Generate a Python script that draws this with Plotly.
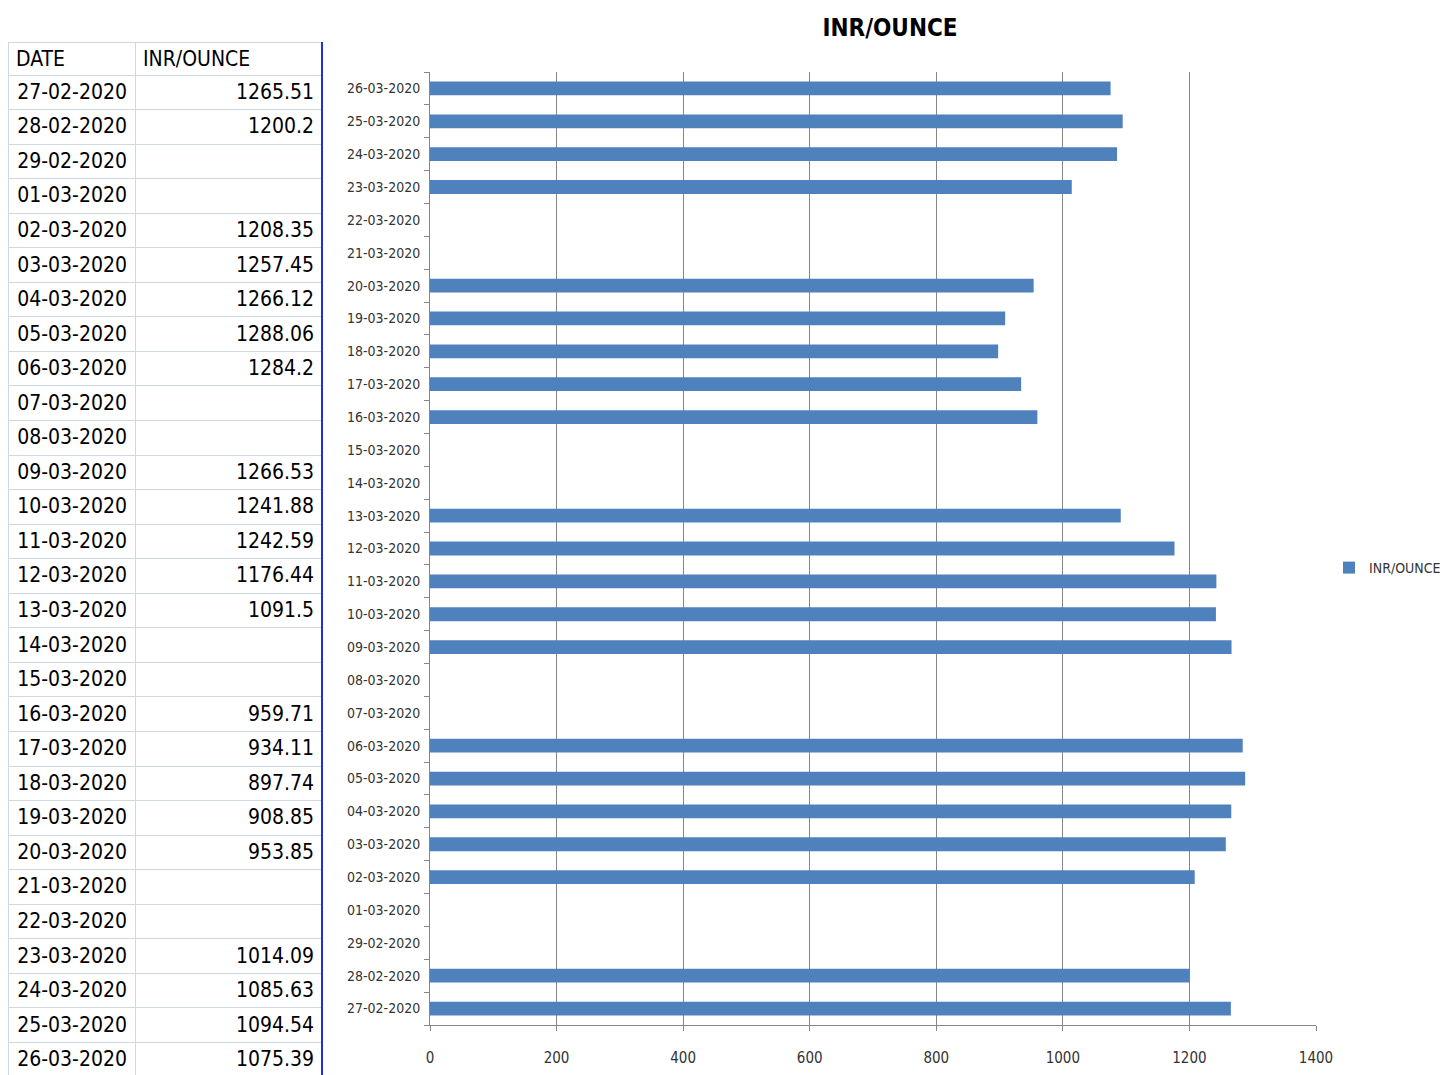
import plotly.graph_objects as go

dates = ["27-02-2020", "28-02-2020", "29-02-2020", "01-03-2020", "02-03-2020", "03-03-2020",
         "04-03-2020", "05-03-2020", "06-03-2020", "07-03-2020", "08-03-2020", "09-03-2020",
         "10-03-2020", "11-03-2020", "12-03-2020", "13-03-2020", "14-03-2020", "15-03-2020",
         "16-03-2020", "17-03-2020", "18-03-2020", "19-03-2020", "20-03-2020", "21-03-2020",
         "22-03-2020", "23-03-2020", "24-03-2020", "25-03-2020", "26-03-2020"]
inr_ounce = [1265.51, 1200.2, None, None, 1208.35, 1257.45,
             1266.12, 1288.06, 1284.2, None, None, 1266.53,
             1241.88, 1242.59, 1176.44, 1091.5, None, None,
             959.71, 934.11, 897.74, 908.85, 953.85, None,
             None, 1014.09, 1085.63, 1094.54, 1075.39]
x_ticks = [0, 200, 400, 600, 800, 1000, 1200, 1400]
series_name = "INR/OUNCE"
headers = ["DATE", "INR/OUNCE"]

W, H = 1446, 1075
NARROW = "DejaVu Sans Condensed, Liberation Sans Narrow, Roboto, sans-serif"
BLUE = "#4F81BD"

fig = go.Figure()

# Spreadsheet table on the left
val_text = ["" if v is None else str(v) for v in inr_ounce]
fig.add_trace(go.Table(
    domain=dict(x=[8 / W, 322 / W], y=[0, 1 - 42 / H]),
    columnwidth=[127, 187],
    header=dict(values=headers, align="left", height=33,
                fill_color="white", line_color="#d0d7e5",
                font=dict(family=NARROW, size=21, color="black")),
    cells=dict(values=[dates, val_text], align="right", height=34.55,
               fill_color="white", line_color="#d0d7e5",
               font=dict(family=NARROW, size=21, color="black")),
))

fig.add_trace(go.Bar(
    y=dates, x=inr_ounce, orientation="h", name=series_name,
    marker=dict(color=BLUE, line=dict(width=0)),
    showlegend=True,
))

fig.update_layout(
    template="none",
    width=W, height=H,
    margin=dict(l=0, r=0, t=0, b=0, autoexpand=False),
    paper_bgcolor="white", plot_bgcolor="white",
    bargap=0.58,
    title=dict(text="<b>INR/OUNCE</b>", x=890 / W, xanchor="center", y=1 - 28 / H, yanchor="middle",
               font=dict(family=NARROW, size=24, color="black")),
    xaxis=dict(domain=[430 / W, 1316 / W], range=[0, 1400], tickvals=x_ticks,
               automargin=False,
               showgrid=True, gridcolor="#868686", gridwidth=1,
               showline=True, linecolor="#868686", linewidth=1,
               ticks="outside", ticklen=5, tickcolor="#868686",
               ticklabelstandoff=14,
               tickfont=dict(family=NARROW, size=15, color="#333333"),
               zeroline=False),
    yaxis=dict(domain=[1 - 1025 / H, 1 - 72 / H], type="category",
               automargin=False,
               categoryorder="array", categoryarray=dates,
               range=[-0.5, len(dates) - 0.5],
               showgrid=False, showline=True, linecolor="#868686", linewidth=1,
               ticks="outside", ticklen=5, tickcolor="#868686", tickson="boundaries",
               ticklabelstandoff=6,
               tickfont=dict(family=NARROW, size=14, color="#333333")),
    legend=dict(x=1.0, xanchor="right", y=1 - 568 / H, yanchor="middle",
                font=dict(family=NARROW, size=14, color="#333333"),
                bgcolor="rgba(0,0,0,0)", itemwidth=30, borderwidth=0),
    shapes=[
        dict(type="line", xref="paper", yref="paper", x0=322 / W, x1=322 / W,
             y0=0, y1=1 - 42 / H, line=dict(color="#1f2fe0", width=2)),
    ],
)

fig.write_html("out.html")
